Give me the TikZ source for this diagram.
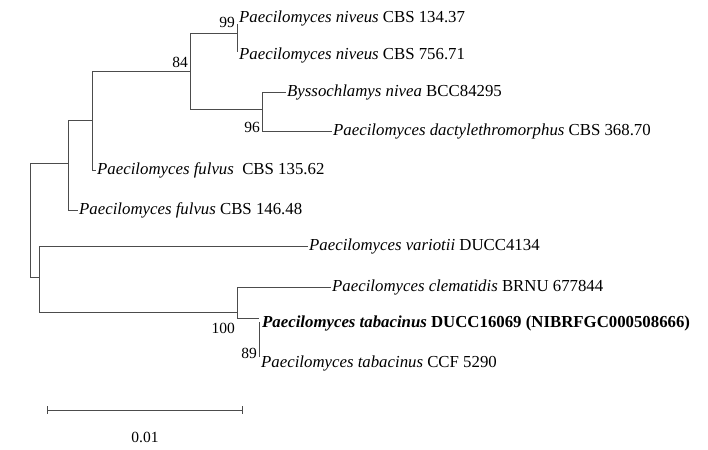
\documentclass[tikz,border=0pt]{standalone}
\usepackage{fontspec}
\setmainfont{Liberation Serif}
\usetikzlibrary{positioning}
\begin{document}
\begin{tikzpicture}[x=1pt,y=-1pt,
	every node/.style={font=\fontsize{16.8}{18}\selectfont},
	taxon/.style={anchor=west,inner sep=1pt},
	boot/.style={font=\fontsize{15.5}{17}\selectfont,inner sep=1pt},
	branch/.style={draw=black!70,line width=0.7pt}]
	\useasboundingbox (0,0) rectangle (708,449);
	% leaves
	\node[taxon] (niv1) at (238,18) {\textit{Paecilomyces niveus} CBS 134.37};
	\node[taxon] (niv2) at (238,55) {\textit{Paecilomyces niveus} CBS 756.71};
	\node[taxon] (bys) at (286,92) {\textit{Byssochlamys nivea} BCC84295};
	\node[taxon] (dac) at (332,131) {\textit{Paecilomyces dactylethromorphus} CBS 368.70};
	\node[taxon] (ful1) at (96,170) {\textit{Paecilomyces fulvus}\ \ CBS 135.62};
	\node[taxon] (ful2) at (78,210) {\textit{Paecilomyces fulvus} CBS 146.48};
	\node[taxon] (var) at (308,246) {\textit{Paecilomyces variotii} DUCC4134};
	\node[taxon] (cle) at (331,287) {\textit{Paecilomyces clematidis} BRNU 677844};
	\node[taxon] (tab1) at (261,323) {\textbf{\textit{Paecilomyces tabacinus} DUCC16069 (NIBRFGC000508666)}};
	\node[taxon] (tab2) at (260,363) {\textit{Paecilomyces tabacinus} CCF 5290};
	% internal nodes
	\coordinate (nniv) at (237,33);
	\coordinate (nbys) at (262,109);
	\coordinate (n84) at (190,71);
	\coordinate (nA) at (92,120);
	\coordinate (nB) at (68,163);
	\coordinate (nroot) at (30,220);
	\coordinate (ntab) at (259,318);
	\coordinate (n100) at (237,312);
	\coordinate (nC) at (39,277);
	% branches
	\path[branch] (237,24) -- (237,52);
	\path[branch] (n84) |- (nniv);
	\path[branch] (n84) |- (nbys);
	\path[branch] (nbys) |- (bys.west);
	\path[branch] (nbys) |- (dac.west);
	\path[branch] (nA) |- (n84);
	\path[branch] (nA) |- (ful1.west);
	\path[branch] (nB) |- (nA);
	\path[branch] (nB) |- (ful2.west);
	\path[branch] (nroot) |- (nB);
	\path[branch] (nroot) |- (nC);
	\path[branch] (nC) |- (var.west);
	\path[branch] (nC) |- (n100);
	\path[branch] (n100) |- (cle.west);
	\path[branch] (n100) |- (ntab);
	\path[branch] (259,322) -- (259,357);
	% bootstrap values
	\node[boot,anchor=east] (b99) at (236,22) {99};
	\node[boot,anchor=east] (b84) at (189,62) {84};
	\node[boot,anchor=east] (b96) at (261,127) {96};
	\node[boot,anchor=east] (b100) at (236,328) {100};
	\node[boot,anchor=east] (b89) at (258,353) {89};
	% scale bar
	\coordinate (sb1) at (47,410);
	\coordinate (sb2) at (242,410);
	\path[branch] (sb1) -- (sb2);
	\path[branch] (sb1) ++(0,-4) -- ++(0,8);
	\path[branch] (sb2) ++(0,-4) -- ++(0,8);
	\node[boot] (sblab) at (145,437) {0.01};
\end{tikzpicture}
\end{document}
